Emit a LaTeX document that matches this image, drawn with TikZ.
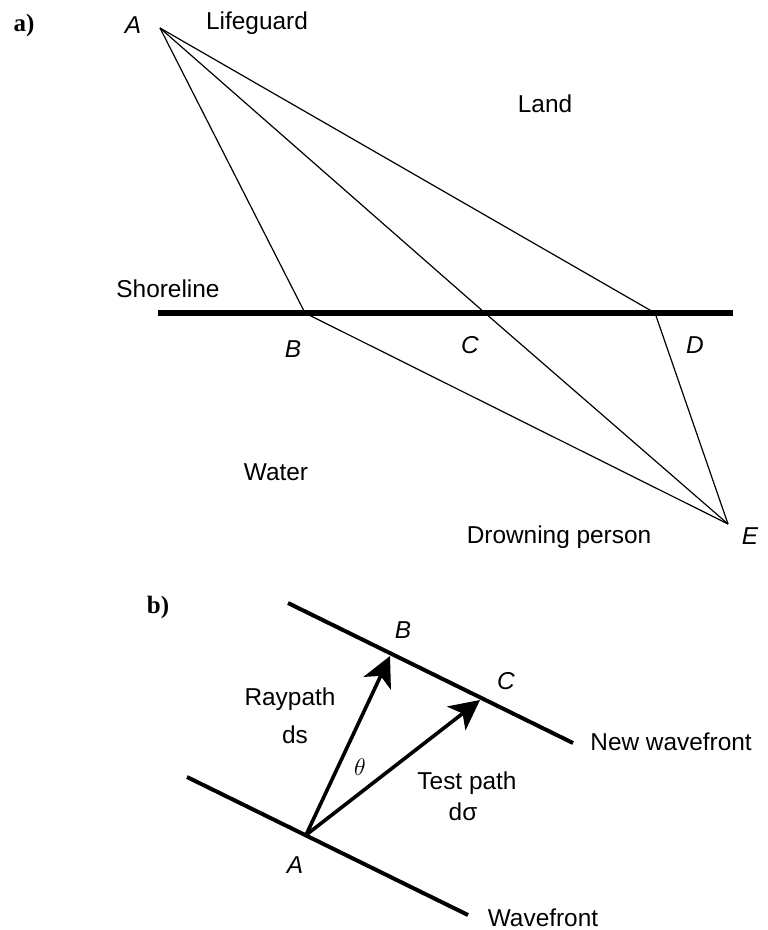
\documentclass[tikz,border=0pt]{standalone}
\usepackage{fontspec}
\setmainfont{Liberation Sans}
\newfontfamily\serifb{Liberation Serif}
\usetikzlibrary{arrows.meta}
\begin{document}
\begin{tikzpicture}[x=0.5pt,y=-0.5pt,
  lbl/.style={font=\fontsize{12.2}{14}\selectfont, inner sep=0pt},
  ptl/.style={font=\fontsize{12.2}{14}\selectfont\itshape, inner sep=0pt},
  partl/.style={font=\fontsize{12.5}{14}\selectfont\serifb\bfseries, inner sep=0pt},
  thinline/.style={line width=0.6pt, line join=round},
  shore/.style={line width=3pt},
  front/.style={line width=2pt},
  ray/.style={line width=1.8pt, -{Stealth[length=15pt,width=15pt,inset=4pt]}}]
\useasboundingbox (0,0) rectangle (767,930);
% ---------- part a ----------
\node[partl] (pa) at (24,25) {a)};
\coordinate (A) at (160,28);
\coordinate (B) at (305,313);
\coordinate (C) at (485,313);
\coordinate (D) at (655,313);
\coordinate (E) at (728,524);
\coordinate (S1) at (158,313);
\coordinate (S2) at (733,313);
\draw[shore] (S1) -- (S2);
\draw[thinline] (A) -- (B) -- (E);
\draw[thinline] (A) -- (C) -- (E);
\draw[thinline] (A) -- (D) -- (E);
\node[ptl] (lA) at (133,25) {A};
\node[lbl] (lifeguard) at (257,23) {Lifeguard};
\node[lbl] (land) at (545,104) {Land};
\node[lbl] (shoreline) at (168,289) {Shoreline};
\node[ptl] (lB) at (293,349) {B};
\node[ptl] (lC) at (470,345) {C};
\node[ptl] (lD) at (695,345) {D};
\node[lbl] (water) at (276,472) {Water};
\node[lbl] (drown) at (559,537) {Drowning person};
\node[ptl] (lE) at (750,536) {E};
% ---------- part b ----------
\node[partl] (pb) at (158,607) {b)};
\coordinate (NW1) at (288,603);
\coordinate (NW2) at (573,743);
\coordinate (W1) at (187,777);
\coordinate (W2) at (468,915);
\coordinate (A2) at (306,835);
\coordinate (B2) at (390,656);
\coordinate (C2) at (480,700);
\draw[front] (NW1) -- (NW2);
\draw[front] (W1) -- (W2);
\draw[ray] (A2) -- (B2);
\draw[ray] (A2) -- (C2);
\node[ptl] (lB2) at (403,630) {B};
\node[ptl] (lC2) at (506,681) {C};
\node[lbl] (raypath) at (290,699) {Raypath};
\node[lbl] (ds) at (295,735) {ds};
\node[font=\fontsize{12.2}{14}\selectfont, inner sep=0pt] (theta) at (360,767) {$\theta$};
\node[lbl] (testpath) at (467,783) {Test path};
\node[lbl] (dsigma) at (463,812) {dσ};
\node[lbl, anchor=west] (newwf) at (590,742) {New wavefront};
\node[ptl] (lA2) at (295,865) {A};
\node[lbl] (wf) at (543,918) {Wavefront};
\end{tikzpicture}
\end{document}
